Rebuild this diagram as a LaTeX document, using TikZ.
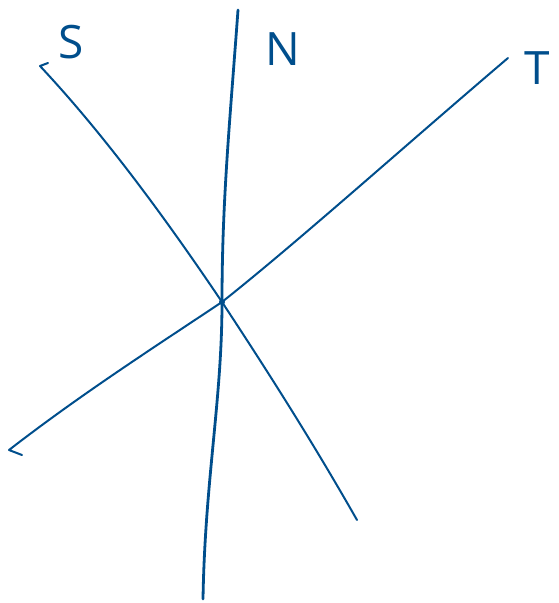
\documentclass[tikz,border=0pt]{standalone}
\usepackage{fontspec}
\setsansfont{Open Sans}

\begin{document}
\begin{tikzpicture}[x=1pt,y=-1pt]
\definecolor{penblue}{RGB}{0,78,140}
\tikzset{
  penline/.style={draw=penblue,line width=2pt,line cap=round,line join=round},
  boldpen/.style={penline,line width=2.8pt},
  penlabel/.style={text=penblue,inner sep=0pt,font=\sffamily\fontsize{46}{46}\selectfont}
}
\useasboundingbox (0,0) rectangle (558,603);
\coordinate (x_mid) at (222,302);
\coordinate (n_top) at (238,10);
\coordinate (n_bot) at (203,599);
\coordinate (s_tick) at (48,63);
\coordinate (s_top) at (40,66);
\coordinate (s_bot) at (357,520);
\coordinate (t_top) at (508,58);
\coordinate (t_bot) at (9,450);
\coordinate (t_tick) at (22,455);
\node[penlabel] (l_S) at (71,42) {S};
\node[penlabel] (l_N) at (283,49) {N};
\node[penlabel] (l_T) at (537,68) {T};
\draw[boldpen] (n_top) .. controls (230,120) and (222,200) .. (x_mid)
  .. controls (222,400) and (205,480) .. (n_bot);
\draw[penline] (s_tick) -- (s_top) .. controls (100,130) and (160,210) .. (x_mid)
  .. controls (280,390) and (320,455) .. (s_bot);
\draw[penline] (t_top) .. controls (400,150) and (300,240) .. (x_mid)
  .. controls (150,350) and (80,395) .. (t_bot) -- (t_tick);
\fill[penblue] (x_mid) circle (3pt);
\end{tikzpicture}
\end{document}
